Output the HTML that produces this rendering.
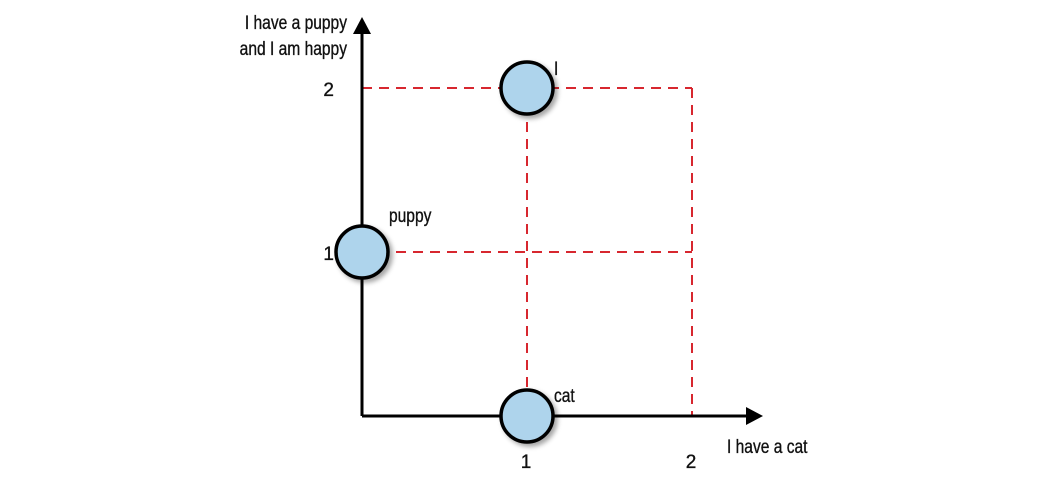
<!DOCTYPE html>
<html><head><meta charset="utf-8"><style>
html,body{margin:0;padding:0;background:#fff;}
svg text{font-family:"Liberation Sans",sans-serif;font-size:19px;fill:#111;stroke:#111;stroke-width:0.35px;}
</style></head><body>
<svg id="chart" width="1039" height="480" viewBox="0 0 1039 480">
<defs><filter id="sh" x="-50%" y="-50%" width="200%" height="200%"><feDropShadow dx="3" dy="3" stdDeviation="2.5" flood-color="#000" flood-opacity="0.35"/></filter></defs>
<g id="grid"></g>
<g>
<line x1="362" y1="416" x2="362" y2="32" stroke="#000" stroke-width="3"/>
<polygon points="362,17 353,34 371,34" fill="#000"/>
<line x1="362" y1="416" x2="748" y2="416" stroke="#000" stroke-width="3"/>
<polygon points="763,416 746,407 746,425" fill="#000"/>
</g>
<g id="ticks"></g>
<g id="points"></g>
<text x="727" y="453" transform="translate(727,0) scale(0.82,1) translate(-727,0)">I have a cat</text>
<text x="347" y="29" text-anchor="end" transform="translate(347,0) scale(0.82,1) translate(-347,0)">I have a puppy</text>
<text x="347" y="55" text-anchor="end" transform="translate(347,0) scale(0.82,1) translate(-347,0)">and I am happy</text>
</svg>
<script>
const xTicks=[1,2];
const yTicks=[1,2];
const words=["I","puppy","cat"];
const wx=[1,0,1];
const wy=[2,1,0];
const X=v=>362+165*v, Y=v=>416-164*v;
const labelDy=[-13,-30,-14];
const NS="http://www.w3.org/2000/svg";
function mk(t,a,p){const e=document.createElementNS(NS,t);for(const k in a)e.setAttribute(k,a[k]);p.appendChild(e);return e;}
const grid=document.getElementById('grid');
const ds={stroke:"#d7272f","stroke-width":2,"stroke-dasharray":"10 7",fill:"none"};
yTicks.forEach(v=>{const l=mk('line',Object.assign({x1:X(0),y1:Y(v),x2:X(2),y2:Y(v)},ds),grid);

});
xTicks.forEach(v=>{const l=mk('line',Object.assign({x1:X(v),y1:Y(2),x2:X(v),y2:Y(0)},ds),grid);

});
const tk=document.getElementById('ticks');
xTicks.forEach(v=>{const t=mk('text',{x:X(v)-1,y:468,"text-anchor":"middle"},tk);t.textContent=v;

});
yTicks.forEach(v=>{const t=mk('text',{x:334,y:Y(v)+8,"text-anchor":"end"},tk);t.textContent=v;

});
const pg=document.getElementById('points');
words.forEach((w,i)=>{const c=mk('circle',{cx:X(wx[i]),cy:Y(wy[i]),r:26,fill:"#aed4ec",stroke:"#000","stroke-width":3.5,filter:"url(#sh)"},pg);


const lx=X(wx[i])+27;
const t=mk('text',{x:lx,y:Y(wy[i])+labelDy[i]},pg);t.textContent=w;
t.setAttribute('transform',`translate(${lx},0) scale(0.82,1) translate(${-lx},0)`);

});
</script>
</body></html>
